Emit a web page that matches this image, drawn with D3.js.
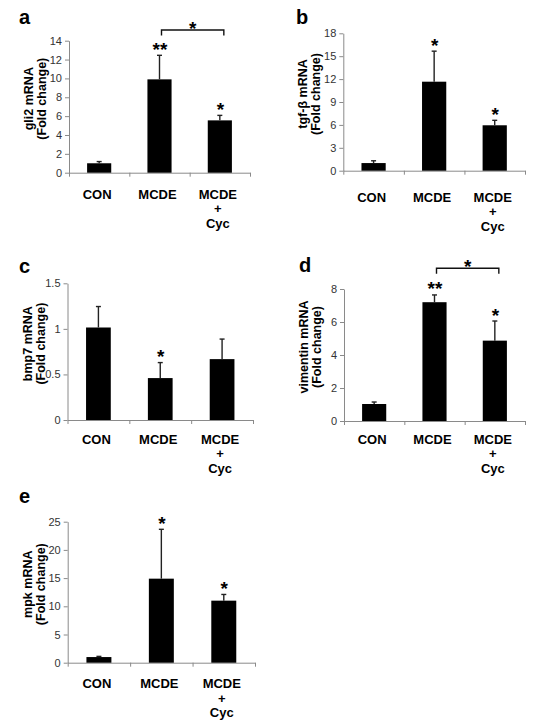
<!DOCTYPE html>
<html>
<head>
<meta charset="utf-8">
<script src="https://cdn.jsdelivr.net/npm/d3@7"></script>
<style>
  html, body { margin: 0; padding: 0; background: #fff; }
  svg { display: block; font-family: "Liberation Sans", Arial, sans-serif; }
</style>
</head>
<body>
<svg id="chart" width="550" height="722"></svg>
<script>
// ---------- data ----------
const categories = ["CON", "MCDE", "MCDE + Cyc"];

const gli2Mean = [1.0, 9.9, 5.55];
const gli2Err = [0.18, 2.55, 0.53];
const gli2Ticks = [0, 2, 4, 6, 8, 10, 12, 14];
const gli2Stars = ["", "**", "*"];
const gli2Bracket = [1, 2, "*"];

const tgfMean = [1.0, 11.66, 5.95];
const tgfErr = [0.3, 4.0, 0.65];
const tgfTicks = [0, 3, 6, 9, 12, 15, 18];
const tgfStars = ["", "*", "*"];

const bmp7Mean = [1.015, 0.46, 0.668];
const bmp7Err = [0.23, 0.17, 0.22];
const bmp7Ticks = [0, 0.5, 1, 1.5];
const bmp7Stars = ["", "*", ""];

const vimMean = [1.03, 7.2, 4.87];
const vimErr = [0.12, 0.44, 1.19];
const vimTicks = [0, 2, 4, 6, 8];
const vimStars = ["", "**", "*"];
const vimBracket = [1, 2, "*"];

const mpkMean = [1.0, 14.9, 11.0];
const mpkErr = [0.12, 8.75, 1.1];
const mpkTicks = [0, 5, 10, 15, 20, 25];
const mpkStars = ["", "*", "*"];

// ---------- layout ----------
const panels = [
  { letter: "a", title: ["gli2 mRNA", "(Fold change)"], mean: gli2Mean, err: gli2Err, ticks: gli2Ticks, stars: gli2Stars, bracket: gli2Bracket,
    left: 69, right: 250, top: 40.7, bottom: 172.7, letterX: 19, letterY: 24, labelOff: 26, bracketY: 30 },
  { letter: "b", title: ["tgf-β mRNA", "(Fold change)"], mean: tgfMean, err: tgfErr, ticks: tgfTicks, stars: tgfStars, bracket: null,
    left: 343.3, right: 525, top: 33.3, bottom: 170.7, letterX: 296, letterY: 24, labelOff: 31 },
  { letter: "c", title: ["bmp7 mRNA", "(Fold change)"], mean: bmp7Mean, err: bmp7Err, ticks: bmp7Ticks, stars: bmp7Stars, bracket: null,
    left: 67.5, right: 253, top: 283.3, bottom: 420, letterX: 19, letterY: 273, labelOff: 23.5 },
  { letter: "d", title: ["vimentin mRNA", "(Fold change)"], mean: vimMean, err: vimErr, ticks: vimTicks, stars: vimStars, bracket: vimBracket,
    left: 344, right: 525, top: 289, bottom: 421, letterX: 299, letterY: 272, labelOff: 22.5, bracketY: 268.3 },
  { letter: "e", title: ["mpk mRNA", "(Fold change)"], mean: mpkMean, err: mpkErr, ticks: mpkTicks, stars: mpkStars, bracket: null,
    left: 67.7, right: 255, top: 521.7, bottom: 662.7, letterX: 19, letterY: 503, labelOff: 25.5 }
];

const svg = d3.select("#chart");

function drawPanel(p) {
  const g = svg.append("g");
  const yMax = p.ticks[p.ticks.length - 1];
  const y = d3.scaleLinear().domain([0, yMax]).range([p.bottom, p.top]);
  const x = d3.scaleBand().domain(categories).range([p.left, p.right]).paddingInner(0.6).paddingOuter(0.3);
  const xb = d3.scaleLinear().domain([0, categories.length]).range([p.left, p.right]);

  // y axis
  const yAxis = g.append("g").attr("transform", `translate(${p.left},0)`)
    .call(d3.axisLeft(y).tickValues(p.ticks).tickSize(4).tickSizeOuter(0).tickPadding(3).tickFormat(d3.format("")));
  yAxis.select(".domain").attr("stroke", "#8a8a8a");
  yAxis.selectAll(".tick line").attr("stroke", "#8a8a8a");
  yAxis.selectAll(".tick text").attr("fill", "#333").style("font-size", "11px")
    .style("font-family", "'Liberation Sans', Arial, sans-serif");

  // x axis with boundary ticks
  const xAxis = g.append("g").attr("transform", `translate(0,${p.bottom})`)
    .call(d3.axisBottom(xb).tickValues(d3.range(categories.length + 1)).tickSize(4).tickSizeOuter(0).tickFormat(""));
  xAxis.select(".domain").attr("stroke", "#8a8a8a");
  xAxis.selectAll(".tick line").attr("stroke", "#8a8a8a");

  // bars
  g.selectAll("rect.bar").data(categories).join("rect")
    .attr("class", "bar")
    .attr("x", d => x(d))
    .attr("width", x.bandwidth())
    .attr("y", (d, i) => y(p.mean[i]))
    .attr("height", (d, i) => y(0) - y(p.mean[i]))
    .attr("fill", "#000");

  // error bars (upper only)
  const cx = d => x(d) + x.bandwidth() / 2;
  g.selectAll("line.err").data(categories).join("line")
    .attr("class", "err")
    .attr("x1", cx).attr("x2", cx)
    .attr("y1", (d, i) => y(p.mean[i]))
    .attr("y2", (d, i) => y(p.mean[i] + p.err[i]))
    .attr("stroke", "#222").attr("stroke-width", 1.4);
  g.selectAll("line.cap").data(categories).join("line")
    .attr("class", "cap")
    .attr("x1", d => cx(d) - 2.5).attr("x2", d => cx(d) + 2.5)
    .attr("y1", (d, i) => y(p.mean[i] + p.err[i]))
    .attr("y2", (d, i) => y(p.mean[i] + p.err[i]))
    .attr("stroke", "#222").attr("stroke-width", 1.4);

  // significance stars
  g.selectAll("text.star").data(categories).join("text")
    .attr("class", "star")
    .attr("x", d => cx(d) + 0.5)
    .attr("y", (d, i) => y(p.mean[i] + p.err[i]) + 0.5)
    .attr("text-anchor", "middle")
    .style("font-size", "19px").style("font-weight", "bold")
    .text((d, i) => p.stars[i]);

  // bracket
  if (p.bracket) {
    const x1 = cx(categories[p.bracket[0]]) + 2, x2 = cx(categories[p.bracket[1]]) + 4;
    g.append("path")
      .attr("d", `M${x1},${p.bracketY + 5.5}V${p.bracketY}H${x2}V${p.bracketY + 5.5}`)
      .attr("fill", "none").attr("stroke", "#111").attr("stroke-width", 1.4);
    g.append("text")
      .attr("x", (x1 + x2) / 2).attr("y", p.bracketY + 5)
      .attr("text-anchor", "middle")
      .style("font-size", "19px").style("font-weight", "bold")
      .text(p.bracket[2]);
  }

  // category labels
  categories.forEach(c => {
    const lines = c.split(" ");
    const t = g.append("text")
      .attr("text-anchor", "middle")
      .style("font-size", "13px").style("font-weight", "bold");
    lines.forEach((ln, j) => {
      t.append("tspan").attr("x", cx(c) - 2).attr("y", p.bottom + p.labelOff + j * 14.5).text(ln);
    });
  });

  // y title
  const midY = (p.top + p.bottom) / 2 - 8;
  p.title.forEach((ln, j) => {
    g.append("text")
      .attr("transform", `translate(${p.left - 36 + j * 13},${midY}) rotate(-90)`)
      .attr("text-anchor", "middle")
      .style("font-size", "12.5px").style("font-weight", "bold")
      .text(ln);
  });

  // panel letter
  g.append("text")
    .attr("x", p.letterX).attr("y", p.letterY)
    .style("font-size", "20px").style("font-weight", "bold")
    .text(p.letter);
}

panels.forEach(drawPanel);
</script>
</body>
</html>
